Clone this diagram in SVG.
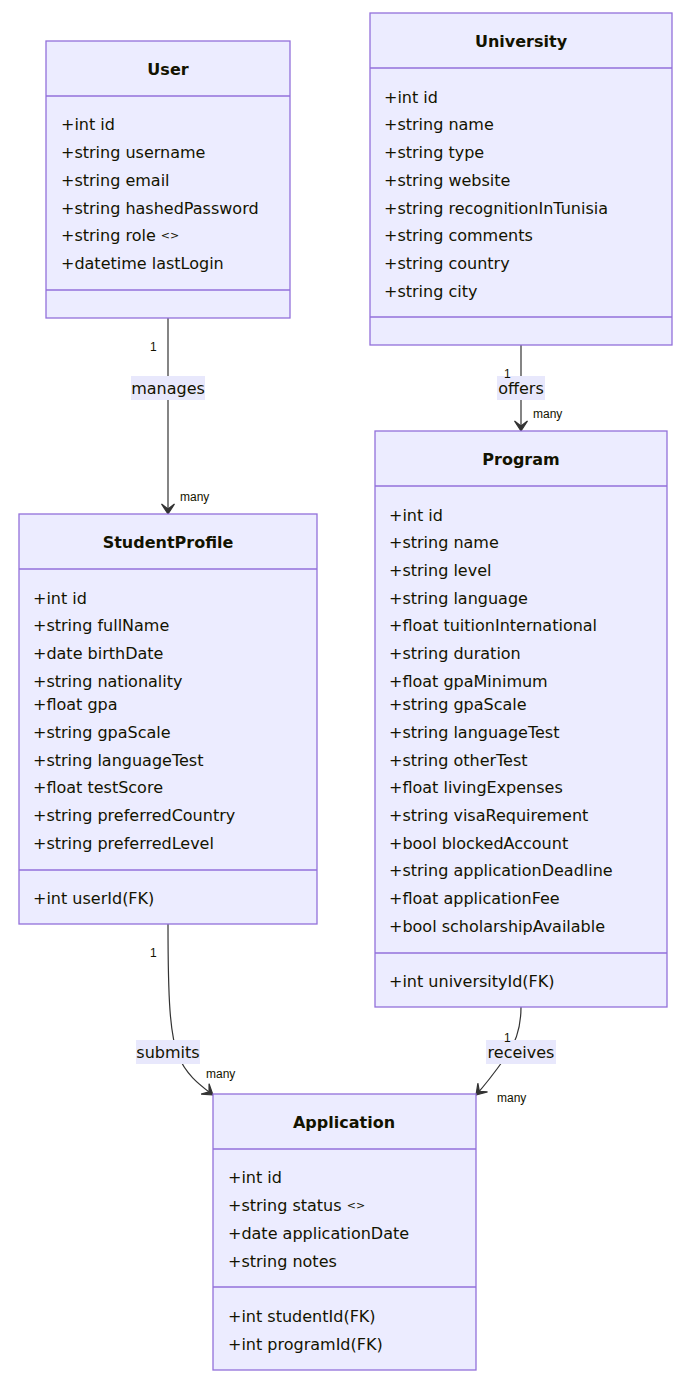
<svg xmlns="http://www.w3.org/2000/svg" width="682" height="1384" viewBox="0 0 682 1384">
<style>
.box{fill:#ECECFF;stroke:#9370DB;stroke-width:1.3}
.div{stroke:#9370DB;stroke-width:1.3}
.t{font-family:"DejaVu Sans",sans-serif;font-size:16px;font-weight:bold;fill:#131300;text-anchor:middle;dominant-baseline:central}
.m{font-family:"DejaVu Sans",sans-serif;font-size:16px;fill:#131300;dominant-baseline:central}
.s{font-size:11px}
.e{fill:none;stroke:#333;stroke-width:1.2}
.lb{fill:#E8E8FC}
.lt{font-family:"DejaVu Sans",sans-serif;font-size:16px;fill:#131300;text-anchor:middle;dominant-baseline:central}
.c{font-family:"Liberation Sans",Arial,sans-serif;font-size:12px;fill:#131300;dominant-baseline:central}
</style>
<defs>
<marker id="arr" viewBox="0 0 20 14" refX="18" refY="7" markerWidth="20" markerHeight="14" markerUnits="userSpaceOnUse" orient="auto">
<path d="M18,7 L8,13.5 L13,7 L8,0.5 Z" fill="#333" stroke="#333" stroke-width="1.2" stroke-linejoin="miter"/>
</marker>
</defs>
<g id="connectors">
<path class="e" d="M168,318 L168,514" marker-end="url(#arr)"/>
<path class="e" d="M521,345 L521,431" marker-end="url(#arr)"/>
<path class="e" d="M168,924 C168,1000 170,1035 178,1055 C186,1075 200,1085 213,1095" marker-end="url(#arr)"/>
<path class="e" d="M521,1007 C521,1030 515,1045 505,1058 C495,1072 485,1085 476,1095" marker-end="url(#arr)"/>
<rect class="lb" x="131" y="376" width="74" height="24"/>
<text class="lt" x="168" y="388">manages</text>
<rect class="lb" x="497" y="376" width="48" height="24"/>
<text class="lt" x="521" y="388">offers</text>
<rect class="lb" x="136" y="1040" width="64" height="24"/>
<text class="lt" x="168" y="1052">submits</text>
<rect class="lb" x="486" y="1040" width="70" height="24"/>
<text class="lt" x="521" y="1052">receives</text>
<text class="c" x="150" y="347">1</text>
<text class="c" x="180" y="497">many</text>
<text class="c" x="504" y="374">1</text>
<text class="c" x="533" y="414">many</text>
<text class="c" x="150" y="953">1</text>
<text class="c" x="206" y="1074">many</text>
<text class="c" x="504" y="1038">1</text>
<text class="c" x="497" y="1098">many</text>
</g>
<g id="User">
<rect class="box" x="46" y="41" width="244" height="277"/>
<line class="div" x1="46" y1="96" x2="290" y2="96"/>
<line class="div" x1="46" y1="290" x2="290" y2="290"/>
<text class="t" x="168" y="69">User</text>
<text class="m" x="61" y="124">+int id</text>
<text class="m" x="61" y="152">+string username</text>
<text class="m" x="61" y="180">+string email</text>
<text class="m" x="61" y="208">+string hashedPassword</text>
<text class="m" x="61" y="235">+string role <tspan class="s">&lt;&gt;</tspan></text>
<text class="m" x="61" y="263">+datetime lastLogin</text>
</g>
<g id="University">
<rect class="box" x="370" y="13" width="302" height="332"/>
<line class="div" x1="370" y1="68" x2="672" y2="68"/>
<line class="div" x1="370" y1="317" x2="672" y2="317"/>
<text class="t" x="521" y="41">University</text>
<text class="m" x="384" y="97">+int id</text>
<text class="m" x="384" y="124">+string name</text>
<text class="m" x="384" y="152">+string type</text>
<text class="m" x="384" y="180">+string website</text>
<text class="m" x="384" y="208">+string recognitionInTunisia</text>
<text class="m" x="384" y="235">+string comments</text>
<text class="m" x="384" y="263">+string country</text>
<text class="m" x="384" y="291">+string city</text>
</g>
<g id="Program">
<rect class="box" x="375" y="431" width="292" height="576"/>
<line class="div" x1="375" y1="486" x2="667" y2="486"/>
<line class="div" x1="375" y1="953" x2="667" y2="953"/>
<text class="t" x="521" y="459">Program</text>
<text class="m" x="389" y="515">+int id</text>
<text class="m" x="389" y="542">+string name</text>
<text class="m" x="389" y="570">+string level</text>
<text class="m" x="389" y="598">+string language</text>
<text class="m" x="389" y="625">+float tuitionInternational</text>
<text class="m" x="389" y="653">+string duration</text>
<text class="m" x="389" y="681">+float gpaMinimum</text>
<text class="m" x="389" y="704">+string gpaScale</text>
<text class="m" x="389" y="732">+string languageTest</text>
<text class="m" x="389" y="760">+string otherTest</text>
<text class="m" x="389" y="787">+float livingExpenses</text>
<text class="m" x="389" y="815">+string visaRequirement</text>
<text class="m" x="389" y="843">+bool blockedAccount</text>
<text class="m" x="389" y="870">+string applicationDeadline</text>
<text class="m" x="389" y="898">+float applicationFee</text>
<text class="m" x="389" y="926">+bool scholarshipAvailable</text>
<text class="m" x="389" y="981">+int universityId(FK)</text>
</g>
<g id="StudentProfile">
<rect class="box" x="19" y="514" width="298" height="410"/>
<line class="div" x1="19" y1="569" x2="317" y2="569"/>
<line class="div" x1="19" y1="870" x2="317" y2="870"/>
<text class="t" x="168" y="542">StudentProfile</text>
<text class="m" x="33" y="598">+int id</text>
<text class="m" x="33" y="625">+string fullName</text>
<text class="m" x="33" y="653">+date birthDate</text>
<text class="m" x="33" y="681">+string nationality</text>
<text class="m" x="33" y="704">+float gpa</text>
<text class="m" x="33" y="732">+string gpaScale</text>
<text class="m" x="33" y="760">+string languageTest</text>
<text class="m" x="33" y="787">+float testScore</text>
<text class="m" x="33" y="815">+string preferredCountry</text>
<text class="m" x="33" y="843">+string preferredLevel</text>
<text class="m" x="33" y="898">+int userId(FK)</text>
</g>
<g id="Application">
<rect class="box" x="213" y="1094" width="263" height="276"/>
<line class="div" x1="213" y1="1149" x2="476" y2="1149"/>
<line class="div" x1="213" y1="1287" x2="476" y2="1287"/>
<text class="t" x="344" y="1122">Application</text>
<text class="m" x="228" y="1177">+int id</text>
<text class="m" x="228" y="1205">+string status <tspan class="s">&lt;&gt;</tspan></text>
<text class="m" x="228" y="1233">+date applicationDate</text>
<text class="m" x="228" y="1261">+string notes</text>
<text class="m" x="228" y="1316">+int studentId(FK)</text>
<text class="m" x="228" y="1344">+int programId(FK)</text>
</g>
</svg>
